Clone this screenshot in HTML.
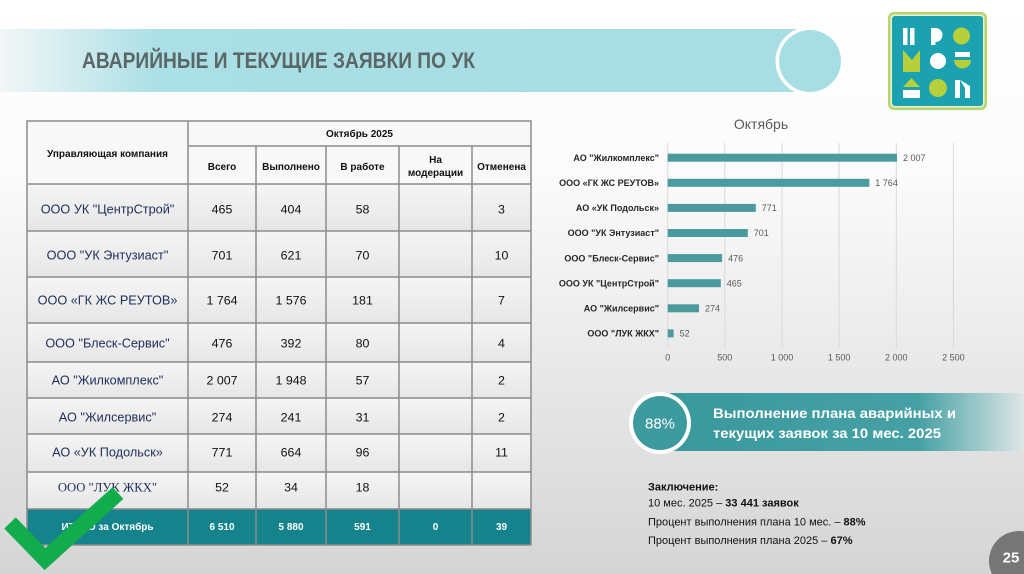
<!DOCTYPE html>
<html><head><meta charset="utf-8">
<style>
html,body{margin:0;padding:0;width:1024px;height:574px;overflow:hidden;}
svg{display:block;font-family:"Liberation Sans","Noto Sans CJK SC",sans-serif;}
</style></head>
<body>
<svg width="1024" height="574" viewBox="0 0 1024 574" xmlns="http://www.w3.org/2000/svg">
<defs>
<linearGradient id="bg" x1="0" y1="0" x2="0" y2="1">
<stop offset="0" stop-color="#ffffff"/><stop offset="0.3" stop-color="#fbfbfb"/><stop offset="1" stop-color="#d5d5d5"/>
</linearGradient>
<linearGradient id="ban" x1="0" y1="0" x2="1" y2="0">
<stop offset="0" stop-color="#f2f6f6"/><stop offset="0.2" stop-color="#a9dfe5"/><stop offset="1" stop-color="#a6dee4"/>
</linearGradient>
<linearGradient id="ban2" x1="0" y1="0" x2="1" y2="0">
<stop offset="0" stop-color="#3a999d"/><stop offset="0.7" stop-color="#45a0a4"/><stop offset="1" stop-color="#dfe6e6"/>
</linearGradient>
<linearGradient id="cell" x1="0" y1="0" x2="0" y2="1">
<stop offset="0" stop-color="#f5f5f5"/><stop offset="1" stop-color="#e6e6e6"/>
</linearGradient>
</defs>

<rect x="0" y="0" width="1024" height="574" fill="url(#bg)"/>

<!-- top banner -->
<rect x="0" y="29" width="805" height="63" fill="url(#ban)"/>
<circle cx="810" cy="61" r="34.5" fill="#ffffff"/>
<circle cx="810" cy="61" r="31" fill="#a6dee4"/>
<text x="82" y="68" font-size="22" font-weight="bold" fill="#5b6667" textLength="393" lengthAdjust="spacingAndGlyphs">АВАРИЙНЫЕ И ТЕКУЩИЕ ЗАЯВКИ ПО УК</text>

<!-- logo -->
<rect x="888" y="12" width="99" height="98" rx="6" fill="#b7d56c"/>
<rect x="890.5" y="14.5" width="94" height="93" rx="4" fill="#e8f1d0"/>
<rect x="892" y="16" width="91" height="90" rx="3" fill="#1ba1b0"/>
<rect x="903" y="28" width="4.5" height="17" fill="#fff"/>
<rect x="910" y="28" width="4.5" height="17" fill="#fff"/>
<rect x="931" y="28" width="4.5" height="17" fill="#fff"/>
<path d="M935.5 28 A7 7 0 0 1 935.5 42 Z" fill="#fff"/>
<circle cx="961.5" cy="36" r="8.5" fill="#b6cf3a"/>
<polygon points="903,72 903,50 912,60 920,50 920,72" fill="#b6cf3a"/>
<circle cx="938" cy="61" r="8" fill="#fff"/>
<rect x="955" y="52" width="15" height="5" fill="#fff"/>
<path d="M954 60 L971 60 A8.5 8.5 0 0 1 954 60 Z" fill="#b6cf3a"/>
<polygon points="903,87 911.5,78 920,87" fill="#b6cf3a"/>
<rect x="903" y="90" width="17" height="8" fill="#fff"/>
<circle cx="938" cy="88" r="9" fill="#b6cf3a"/>
<rect x="955" y="80" width="5" height="18" fill="#fff"/>
<polygon points="960,80 970,86 970,98 965,98 965,88" fill="#fff"/>

<!-- table -->
<g>
<rect x="27" y="121" width="504" height="63" fill="#f8f8f8"/>
<rect x="27" y="184" width="504" height="47" fill="url(#cell)"/>
<rect x="27" y="231" width="504" height="46" fill="url(#cell)"/>
<rect x="27" y="277" width="504" height="46" fill="url(#cell)"/>
<rect x="27" y="323" width="504" height="39" fill="url(#cell)"/>
<rect x="27" y="362" width="504" height="36" fill="url(#cell)"/>
<rect x="27" y="398" width="504" height="36" fill="url(#cell)"/>
<rect x="27" y="434" width="504" height="38" fill="url(#cell)"/>
<rect x="27" y="472" width="504" height="37" fill="url(#cell)"/>
<rect x="27" y="509" width="504" height="36" fill="#15838c"/>
<g stroke="#8c8c8c" stroke-width="1.5" fill="none">
<rect x="27" y="121" width="504" height="424"/>
<line x1="188" y1="146" x2="531" y2="146"/>
<line x1="27" y1="184" x2="531" y2="184"/>
<line x1="27" y1="231" x2="531" y2="231"/>
<line x1="27" y1="277" x2="531" y2="277"/>
<line x1="27" y1="323" x2="531" y2="323"/>
<line x1="27" y1="362" x2="531" y2="362"/>
<line x1="27" y1="398" x2="531" y2="398"/>
<line x1="27" y1="434" x2="531" y2="434"/>
<line x1="27" y1="472" x2="531" y2="472"/>
<line x1="27" y1="509" x2="531" y2="509"/>
<line x1="188" y1="121" x2="188" y2="545"/>
<line x1="256" y1="146" x2="256" y2="545"/>
<line x1="326" y1="146" x2="326" y2="545"/>
<line x1="399" y1="146" x2="399" y2="545"/>
<line x1="472" y1="146" x2="472" y2="545"/>
</g>
<g font-size="10" font-weight="bold" fill="#111" text-anchor="middle">
<text x="107.5" y="157">Управляющая компания</text>
<text x="359.5" y="137">Октябрь 2025</text>
<text x="222" y="170">Всего</text>
<text x="291" y="170">Выполнено</text>
<text x="362.5" y="170">В работе</text>
<text x="435.5" y="163">На</text>
<text x="435.5" y="176">модерации</text>
<text x="501.5" y="170">Отменена</text>
</g>
<g font-size="12.7" fill="#1f2d5a" text-anchor="middle">
<text x="107.5" y="213.5">ООО УК "ЦентрСтрой"</text>
<text x="107.5" y="259.5">ООО "УК Энтузиаст"</text>
<text x="107.5" y="304.5">ООО «ГК ЖС РЕУТОВ»</text>
<text x="107.5" y="347.5">ООО "Блеск-Сервис"</text>
<text x="107.5" y="384.5">АО "Жилкомплекс"</text>
<text x="107.5" y="421.5">АО "Жилсервис"</text>
<text x="107.5" y="456.5">АО «УК Подольск»</text>
<text x="107.5" y="491.5" font-family="Liberation Serif, serif">ООО "ЛУК ЖКХ"</text>
</g>
<g font-size="12.4" fill="#111" text-anchor="middle">
<text x="222" y="213.5">465</text><text x="291" y="213.5">404</text><text x="362.5" y="213.5">58</text><text x="501.5" y="213.5">3</text>
<text x="222" y="259.5">701</text><text x="291" y="259.5">621</text><text x="362.5" y="259.5">70</text><text x="501.5" y="259.5">10</text>
<text x="222" y="304.5">1 764</text><text x="291" y="304.5">1 576</text><text x="362.5" y="304.5">181</text><text x="501.5" y="304.5">7</text>
<text x="222" y="347.5">476</text><text x="291" y="347.5">392</text><text x="362.5" y="347.5">80</text><text x="501.5" y="347.5">4</text>
<text x="222" y="384.5">2 007</text><text x="291" y="384.5">1 948</text><text x="362.5" y="384.5">57</text><text x="501.5" y="384.5">2</text>
<text x="222" y="421.5">274</text><text x="291" y="421.5">241</text><text x="362.5" y="421.5">31</text><text x="501.5" y="421.5">2</text>
<text x="222" y="456.5">771</text><text x="291" y="456.5">664</text><text x="362.5" y="456.5">96</text><text x="501.5" y="456.5">11</text>
<text x="222" y="491.5">52</text><text x="291" y="491.5">34</text><text x="362.5" y="491.5">18</text>
</g>
<g font-size="10" font-weight="bold" fill="#ffffff" text-anchor="middle">
<text x="107.5" y="530">ИТОГО за Октябрь</text>
<text x="222" y="530">6 510</text><text x="291" y="530">5 880</text><text x="362.5" y="530">591</text><text x="435.5" y="530">0</text><text x="501.5" y="530">39</text>
</g>
</g>

<!-- check mark -->
<polyline points="10,523 45,559 118,493" fill="none" stroke="#13ac4c" stroke-width="16" stroke-linejoin="miter"/>

<!-- chart -->
<text x="761" y="129" font-size="14" fill="#595959" text-anchor="middle">Октябрь</text>
<g stroke="#d9d9d9" stroke-width="1">
<line x1="667.7" y1="143" x2="667.7" y2="348"/>
<line x1="724.8" y1="143" x2="724.8" y2="348"/>
<line x1="782" y1="143" x2="782" y2="348"/>
<line x1="839.1" y1="143" x2="839.1" y2="348"/>
<line x1="896.3" y1="143" x2="896.3" y2="348"/>
<line x1="953.4" y1="143" x2="953.4" y2="348"/>
</g>
<g fill="#4a9a9e">
<rect x="667.7" y="153.7" width="229.3" height="8"/>
<rect x="667.7" y="178.8" width="201.6" height="8"/>
<rect x="667.7" y="203.9" width="88.1" height="8"/>
<rect x="667.7" y="229" width="80.1" height="8"/>
<rect x="667.7" y="254.1" width="54.4" height="8"/>
<rect x="667.7" y="279.2" width="53.1" height="8"/>
<rect x="667.7" y="304.3" width="31.3" height="8"/>
<rect x="667.7" y="329.4" width="5.9" height="8"/>
</g>
<g font-size="9" fill="#595959">
<text x="903" y="161">2 007</text>
<text x="875.3" y="186">1 764</text>
<text x="761.8" y="211">771</text>
<text x="753.8" y="236">701</text>
<text x="728.1" y="261.5">476</text>
<text x="726.8" y="286.5">465</text>
<text x="705" y="311.5">274</text>
<text x="679.6" y="336.5">52</text>
</g>
<g font-size="9" font-weight="bold" fill="#262626" text-anchor="end">
<text x="659" y="160.9">АО "Жилкомплекс"</text>
<text x="659" y="186">ООО «ГК ЖС РЕУТОВ»</text>
<text x="659" y="211.1">АО «УК Подольск»</text>
<text x="659" y="236.2">ООО "УК Энтузиаст"</text>
<text x="659" y="261.3">ООО "Блеск-Сервис"</text>
<text x="659" y="286.4">ООО УК "ЦентрСтрой"</text>
<text x="659" y="311.5">АО "Жилсервис"</text>
<text x="659" y="336.6">ООО "ЛУК ЖКХ"</text>
</g>
<g font-size="9" fill="#595959" text-anchor="middle">
<text x="667.7" y="360.5">0</text>
<text x="724.8" y="360.5">500</text>
<text x="782" y="360.5">1 000</text>
<text x="839.1" y="360.5">1 500</text>
<text x="896.3" y="360.5">2 000</text>
<text x="953.4" y="360.5">2 500</text>
</g>

<!-- bottom banner -->
<rect x="670" y="393" width="354" height="58" fill="url(#ban2)"/>
<circle cx="660" cy="423" r="31" fill="#ffffff"/>
<circle cx="660" cy="423" r="27" fill="#3d9a9e"/>
<text x="660" y="428.5" font-size="15" fill="#ffffff" text-anchor="middle">88%</text>
<g font-size="14" font-weight="bold" fill="#ffffff">
<text x="713" y="418" textLength="243" lengthAdjust="spacingAndGlyphs">Выполнение плана аварийных и</text>
<text x="713" y="438" textLength="228" lengthAdjust="spacingAndGlyphs">текущих заявок за 10 мес. 2025</text>
</g>

<!-- conclusion -->
<g font-size="11" fill="#111">
<text x="648" y="490.5" font-weight="bold">Заключение:</text>
<text x="648" y="506.5">10 мес. 2025 – <tspan font-weight="bold">33 441 заявок</tspan></text>
<text x="648" y="525.5">Процент выполнения плана 10 мес. – <tspan font-weight="bold">88%</tspan></text>
<text x="648" y="544">Процент выполнения плана 2025 – <tspan font-weight="bold">67%</tspan></text>
</g>

<!-- page number -->
<circle cx="1019" cy="561" r="30" fill="#767676"/>
<text x="1011" y="562.5" font-size="15" font-weight="bold" fill="#ffffff" text-anchor="middle">25</text>
</svg>
</body></html>
